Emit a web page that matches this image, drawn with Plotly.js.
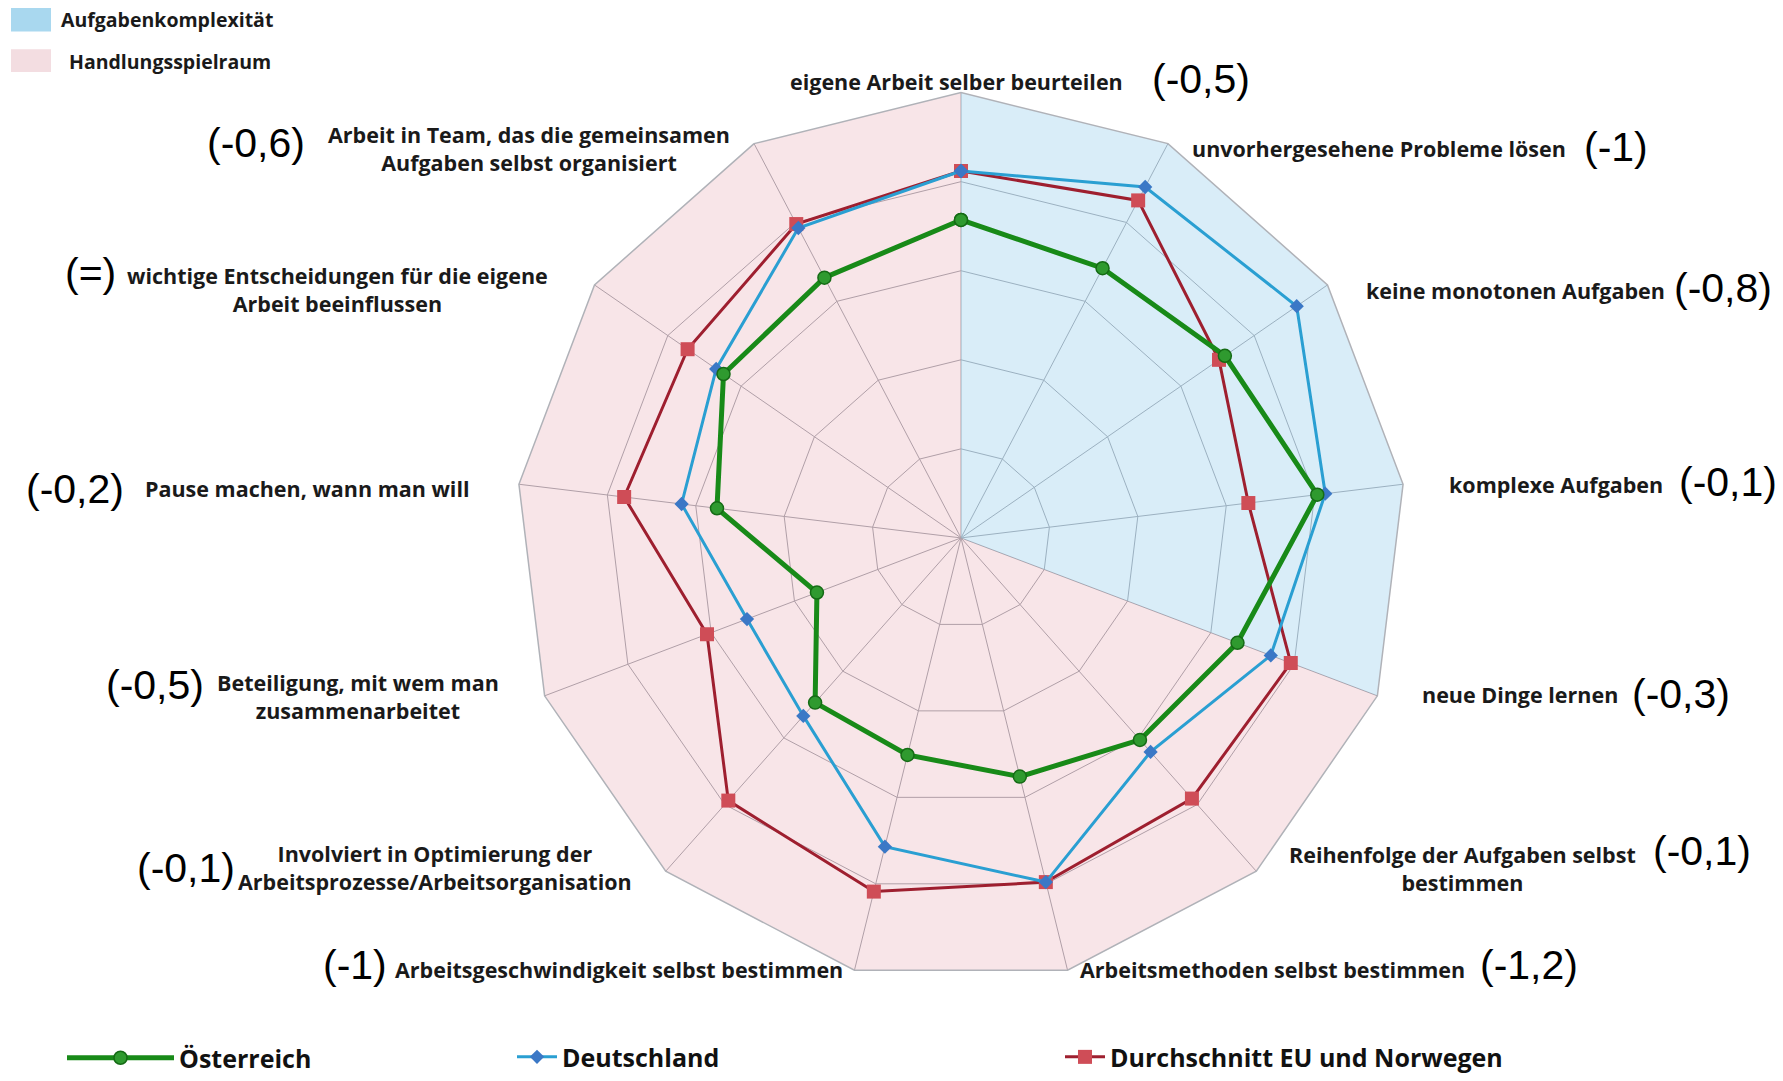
<!DOCTYPE html>
<html>
<head>
<meta charset="utf-8">
<script src="https://cdn.plot.ly/plotly-3.0.1.min.js"></script>
<style>
  html, body { margin: 0; padding: 0; background: #ffffff; }
  #chart { width: 1783px; height: 1081px; }
</style>
</head>
<body>
<div id="chart"></div>
<script>
// ---- data ----
const categories = [
  'eigene Arbeit selber beurteilen',
  'unvorhergesehene Probleme lösen',
  'keine monotonen Aufgaben',
  'komplexe Aufgaben',
  'neue Dinge lernen',
  'Reihenfolge der Aufgaben selbst bestimmen',
  'Arbeitsmethoden selbst bestimmen',
  'Arbeitsgeschwindigkeit selbst bestimmen',
  'Involviert in Optimierung der Arbeitsprozesse/Arbeitsorganisation',
  'Beteiligung, mit wem man zusammenarbeitet',
  'Pause machen, wann man will',
  'wichtige Entscheidungen für die eigene Arbeit beeinflussen',
  'Arbeit in Team, das die gemeinsamen Aufgaben selbst organisiert'
];
const categoryLabels = [
  'eigene Arbeit selber beurteilen',
  'unvorhergesehene Probleme lösen',
  'keine monotonen Aufgaben',
  'komplexe Aufgaben',
  'neue Dinge lernen',
  'Reihenfolge der Aufgaben selbst<br>bestimmen',
  'Arbeitsmethoden selbst bestimmen',
  'Arbeitsgeschwindigkeit selbst bestimmen',
  'Involviert in Optimierung der<br>Arbeitsprozesse/Arbeitsorganisation',
  'Beteiligung, mit wem man<br>zusammenarbeitet',
  'Pause machen, wann man will',
  'wichtige Entscheidungen für die eigene<br>Arbeit beeinflussen',
  'Arbeit in Team, das die gemeinsamen<br>Aufgaben selbst organisiert'
];
const differences = ['(-0,5)', '(-1)', '(-0,8)', '(-0,1)', '(-0,3)', '(-0,1)', '(-1,2)',
                     '(-1)', '(-0,1)', '(-0,5)', '(-0,2)', '(=)', '(-0,6)'];
const oesterreich  = [3.57, 3.42, 3.60, 4.03, 3.32, 3.03, 2.76, 2.51, 2.47, 1.73, 2.76, 3.24, 3.30];
const deutschland  = [4.12, 4.45, 4.58, 4.12, 3.72, 3.21, 3.98, 3.57, 2.67, 2.57, 3.16, 3.34, 3.93];
const euNorwegen   = [4.12, 4.28, 3.52, 3.25, 3.96, 3.91, 3.98, 4.09, 3.94, 3.05, 3.81, 3.73, 3.98];
const seriesNames  = ['Österreich', 'Deutschland', 'Durchschnitt EU und Norwegen'];
const groupNames   = ['Aufgabenkomplexität', 'Handlungsspielraum'];
const rMax = 5;
const complexityCount = 5; // first five axes = Aufgabenkomplexität

// ---- figure ----
const W = 1783, H = 1081;
const px = x => x / W;
const py = y => 1 - y / H;

const close = arr => arr.concat([arr[0]]);

// background sectors
const blueTheta = [categories[0]].concat(categories.slice(0, complexityCount)).concat([categories[complexityCount - 1]]);
const blueR = [0].concat(categories.slice(0, complexityCount).map(() => rMax)).concat([0]);
const pinkCats = categories.slice(complexityCount - 1).concat([categories[0]]);
const pinkTheta = [pinkCats[0]].concat(pinkCats).concat([categories[0]]);
const pinkR = [0].concat(pinkCats.map(() => rMax)).concat([0]);

const traces = [
  { type: 'scatterpolar', theta: blueTheta, r: blueR, mode: 'lines', fill: 'toself',
    fillcolor: 'rgba(140,200,235,0.33)', line: { width: 0, color: 'rgba(0,0,0,0)' },
    showlegend: false, hoverinfo: 'skip' },
  { type: 'scatterpolar', theta: pinkTheta, r: pinkR, mode: 'lines', fill: 'toself',
    fillcolor: 'rgba(225,135,150,0.22)', line: { width: 0, color: 'rgba(0,0,0,0)' },
    showlegend: false, hoverinfo: 'skip' },
  { type: 'scatterpolar', name: seriesNames[2], legend: 'legend3',
    theta: close(categories), r: close(euNorwegen), mode: 'lines+markers',
    line: { color: '#9e1f2f', width: 3 },
    marker: { symbol: 'square', size: 14, color: '#cf4d57', line: { width: 0 } } },
  { type: 'scatterpolar', name: seriesNames[1], legend: 'legend2',
    theta: close(categories), r: close(deutschland), mode: 'lines+markers',
    line: { color: '#2a9fd2', width: 3 },
    marker: { symbol: 'diamond', size: 11, color: '#3b78c6', line: { width: 0 } } },
  { type: 'scatterpolar', name: seriesNames[0], legend: 'legend',
    theta: close(categories), r: close(oesterreich), mode: 'lines+markers',
    line: { color: '#188a18', width: 5 },
    marker: { symbol: 'circle', size: 13, color: '#2f9a2f', line: { width: 1.5, color: '#156b15' } } }
];

const labelPos = [[956,83],[1379,151],[1515,295],[1556,492],[1520,705],[1462,882],[1272,984],
                  [619,984],[435,881],[358,707],[307,496],[337,294],[529,151]];
const labelSize = 21.5;
const diffPos  = [[1201,80],[1616,149],[1723,292],[1728,489],[1681,704],[1702,864],[1529,980],
                  [355,980],[186,881],[155,695],[75,496],[90,277],[256,145]];

const annotations = [];
categoryLabels.forEach((t, i) => {
  annotations.push({ text: '<b>' + t + '</b>', x: px(labelPos[i][0]), y: py(labelPos[i][1]),
    xref: 'paper', yref: 'paper', xanchor: 'center', yanchor: 'middle', showarrow: false,
    align: 'center', font: { family: 'Open Sans, sans-serif', size: labelSize, color: '#1a1a1a' } });
});
differences.forEach((t, i) => {
  annotations.push({ text: t, x: px(diffPos[i][0]), y: py(diffPos[i][1]),
    xref: 'paper', yref: 'paper', xanchor: 'center', yanchor: 'middle', showarrow: false,
    font: { family: 'Liberation Sans, Arial, sans-serif', size: 41, color: '#000000' } });
});
annotations.push({ text: '<b>' + groupNames[0] + '</b>', x: px(59), y: py(20), xref: 'paper', yref: 'paper',
  xanchor: 'left', yanchor: 'middle', showarrow: false,
  font: { family: 'Open Sans, sans-serif', size: 19.5, color: '#1a1a1a' } });
annotations.push({ text: '<b>' + groupNames[1] + '</b>', x: px(67), y: py(62), xref: 'paper', yref: 'paper',
  xanchor: 'left', yanchor: 'middle', showarrow: false,
  font: { family: 'Open Sans, sans-serif', size: 19.5, color: '#1a1a1a' } });

const shapes = [
  { type: 'rect', xref: 'paper', yref: 'paper', x0: px(11), x1: px(51), y0: py(8), y1: py(32),
    fillcolor: '#a9d8ef', line: { width: 0 } },
  { type: 'rect', xref: 'paper', yref: 'paper', x0: px(11), x1: px(51), y0: py(50), y1: py(73),
    fillcolor: '#f3dde1', line: { width: 0 } }
];

const cx = 961, cy = 546, R = 452;
const legendFont = { family: 'Open Sans, sans-serif', size: 25, color: '#111111', weight: 700 };

const layout = {
  width: W, height: H,
  margin: { l: 0, r: 0, t: 0, b: 0 },
  paper_bgcolor: '#ffffff',
  showlegend: true,
  polar: {
    domain: { x: [px(cx - R), px(cx + R)], y: [py(cy + R), py(cy - R)] },
    bgcolor: 'rgba(0,0,0,0)',
    gridshape: 'linear',
    radialaxis: { range: [0, rMax], dtick: 1, showticklabels: false, ticks: '', showline: false,
                  gridcolor: '#a4a6ad', gridwidth: 1 },
    angularaxis: { rotation: 90, direction: 'clockwise', categoryorder: 'array', categoryarray: categories,
                   showticklabels: false, ticks: '', gridcolor: '#a4a6ad', gridwidth: 1,
                   showline: true, linecolor: '#b0b2b8', linewidth: 1.5 }
  },
  legend:  { x: px(62), y: py(1074), xanchor: 'left', yanchor: 'middle', orientation: 'h',
             itemwidth: 107, font: legendFont, bgcolor: 'rgba(0,0,0,0)' },
  legend2: { x: px(512), y: py(1073), xanchor: 'left', yanchor: 'middle', orientation: 'h',
             itemwidth: 40, font: legendFont, bgcolor: 'rgba(0,0,0,0)' },
  legend3: { x: px(1060), y: py(1073), xanchor: 'left', yanchor: 'middle', orientation: 'h',
             itemwidth: 40, font: legendFont, bgcolor: 'rgba(0,0,0,0)' },
  annotations: annotations,
  shapes: shapes,
  hovermode: false
};

Plotly.newPlot('chart', traces, layout, { displayModeBar: false, staticPlot: true });
</script>
</body>
</html>
